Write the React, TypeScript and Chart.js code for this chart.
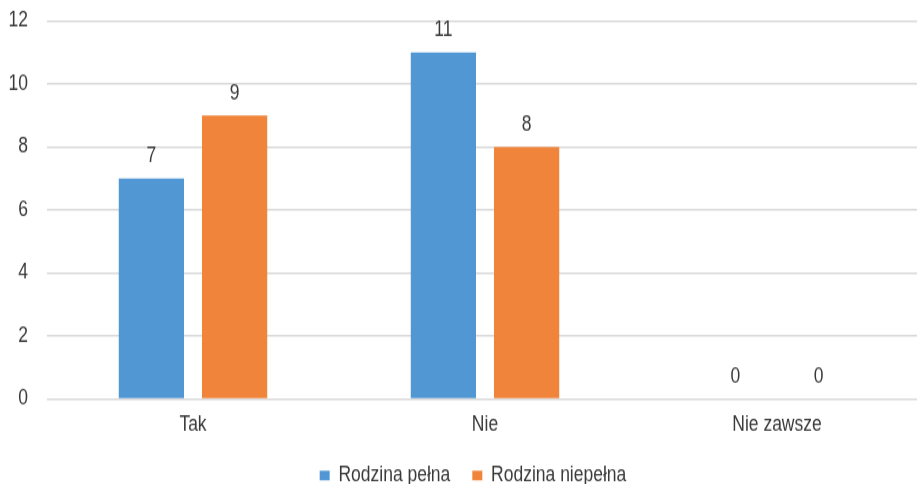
import React, { useEffect, useRef } from "react";
import { Chart, registerables } from "chart.js";

Chart.register(...registerables);

const categories = ["Tak", "Nie", "Nie zawsze"];
const seriesNames = ["Rodzina pełna", "Rodzina niepełna"];
const fullFamily = [7, 11, 0];
const singleParent = [9, 8, 0];
const yTicks = [0, 2, 4, 6, 8, 10, 12];

const FONT = '"Liberation Sans", Arial, sans-serif';
const TEXT = "#3a3a3a";
const FS = 17.5;
const STRETCH = 1.2;

const valueLabels = {
  id: "valueLabels",
  afterDatasetsDraw(chart: any) {
    const ctx = chart.ctx;
    ctx.save();
    ctx.font = `${FS}px ${FONT}`;
    ctx.fillStyle = TEXT;
    ctx.textAlign = "center";
    ctx.textBaseline = "alphabetic";
    chart.data.datasets.forEach((ds: any, i: number) => {
      const meta = chart.getDatasetMeta(i);
      meta.data.forEach((bar: any, j: number) => {
        ctx.fillText(String(ds.data[j]), bar.x, bar.y - 13.75);
      });
    });
    ctx.restore();
  },
};

export default function App() {
  const ref = useRef<HTMLCanvasElement>(null);
  useEffect(() => {
    document.body.style.margin = "0";
    const chart = new Chart(ref.current!, {
      type: "bar",
      data: {
        labels: categories,
        datasets: [
          { label: seriesNames[0], data: fullFamily, backgroundColor: "#5097d3" },
          { label: seriesNames[1], data: singleParent, backgroundColor: "#f0843a" },
        ],
      },
      plugins: [valueLabels],
      options: {
        responsive: false,
        animation: false,
        devicePixelRatio: 1,
        layout: { padding: { left: 0, top: 17.5, right: 0, bottom: 0 } },
        datasets: { bar: { categoryPercentage: 0.57, barPercentage: 0.784 } },
        scales: {
          x: {
            grid: { display: false },
            border: { display: false },
            afterFit: (s: any) => { s.height = 33; },
            ticks: { color: TEXT, font: { family: FONT, size: FS }, padding: 3.6 },
          },
          y: {
            min: 0,
            max: 12,
            afterFit: (s: any) => { s.width = 47; s.paddingTop = 0; s.paddingBottom = 0; },
            afterBuildTicks: (s: any) => { s.ticks = yTicks.map((v) => ({ value: v })); },
            grid: { color: "#d9d9d9", lineWidth: 1.6, drawTicks: false },
            border: { display: false },
            ticks: { color: TEXT, font: { family: FONT, size: FS }, padding: 19 },
          },
          yRight: {
            position: "right",
            min: 0,
            max: 12,
            afterFit: (s: any) => { s.width = 23; s.paddingTop = 0; s.paddingBottom = 0; },
            grid: { display: false, drawOnChartArea: false },
            border: { display: false },
            ticks: { display: false },
          },
        },
        plugins: {
          legend: {
            position: "bottom",
            labels: {
              color: TEXT,
              font: { family: FONT, size: FS },
              boxWidth: 10,
              boxHeight: 8,
              padding: 22,
            },
          },
          tooltip: { enabled: false },
        },
      },
    });
    return () => chart.destroy();
  }, []);
  return (
    <div style={{ position: "fixed", left: 0, top: 0, width: 917, height: 484, overflow: "hidden", background: "#fff" }}>
      <canvas
        ref={ref}
        width={946}
        height={415}
        style={{ display: "block", transformOrigin: "0 0", transform: `scaleY(${STRETCH})` }}
      />
    </div>
  );
}
